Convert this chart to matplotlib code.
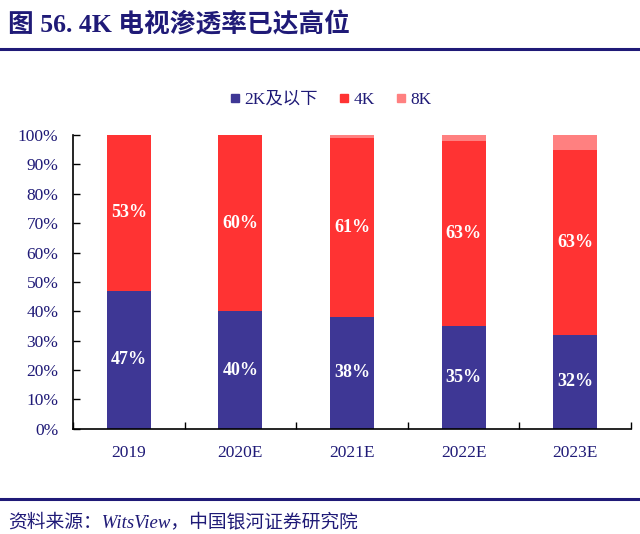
import matplotlib.pyplot as plt
import numpy as np
from matplotlib.lines import Line2D

plt.rcParams['font.family'] = ['Liberation Serif', 'Noto Sans CJK SC', 'DejaVu Sans']

categories = ['2019', '2020E', '2021E', '2022E', '2023E']
share_2k = [47, 40, 38, 35, 32]
share_4k = [53, 60, 61, 63, 63]
share_8k = [0, 0, 1, 2, 5]

c_2k = '#3E3795'
c_4k = '#FF3333'
c_8k = '#FF8080'
navy = '#1F1A77'

fig = plt.figure(figsize=(6.4, 5.34), dpi=100)
ax = fig.add_axes([0.114, 0.197, 0.872, 0.55])

x = np.arange(len(categories))
b2 = np.array(share_2k)
b4 = np.array(share_4k)
b8 = np.array(share_8k)
w = 0.395

ax.bar(x, b2, width=w, color=c_2k, label='2K及以下')
ax.bar(x, b4, width=w, bottom=b2, color=c_4k, label='4K')
ax.bar(x, b8, width=w, bottom=b2 + b4, color=c_8k, label='8K')

for i in range(len(categories)):
    ax.text(x[i], b2[i] / 2, f'{share_2k[i]}%', ha='center', va='center',
            color='white', fontsize=13, fontweight='bold')
    ax.text(x[i], b2[i] + b4[i] / 2, f'{share_4k[i]}%', ha='center', va='center',
            color='white', fontsize=13, fontweight='bold')

ax.set_xlim(-0.5, len(categories) - 0.5)
ax.set_ylim(0, 100)
ax.set_yticks(np.arange(0, 101, 10))
ax.set_yticklabels([f'{v}%' for v in range(0, 101, 10)])
ax.set_xticks(x)
ax.set_xticklabels(categories)
ax.set_xticks(np.arange(-0.5, len(categories)), minor=True)
ax.tick_params(axis='x', which='major', length=0, pad=12, labelsize=12.5, labelcolor=navy)
ax.tick_params(axis='x', which='minor', direction='in', length=5, width=1)
ax.tick_params(axis='y', direction='in', length=5, width=1, labelsize=12.5, labelcolor=navy, pad=10.5)
for s in ['top', 'right']:
    ax.spines[s].set_visible(False)
for s in ['left', 'bottom']:
    ax.spines[s].set_linewidth(1.2)

handles = [Line2D([], [], marker='s', linestyle='', color=c, markersize=6)
           for c in [c_2k, c_4k, c_8k]]
leg = fig.legend(handles, ['2K及以下', '4K', '8K'], loc='center', bbox_to_anchor=(0.514, 0.813),
                 ncol=3, frameon=False, fontsize=12.5, handletextpad=0.05, columnspacing=1.0,
                 handlelength=1.0)
for t in leg.get_texts():
    t.set_color(navy)

fig.text(0.012, 0.953, '图 56. 4K 电视渗透率已达高位', fontsize=18.5, fontweight='bold',
         color=navy, va='center', ha='left')
fig.add_artist(Line2D([0, 1], [0.909, 0.909], color=navy, linewidth=2.2))
fig.add_artist(Line2D([0, 1], [0.066, 0.066], color=navy, linewidth=2.2))
fig.text(0.012, 0.022, '资料来源：WitsView，中国银河证券研究院', fontsize=13.5, style='italic',
         color=navy, va='center', ha='left')

fig.savefig('out.png', dpi=100)
